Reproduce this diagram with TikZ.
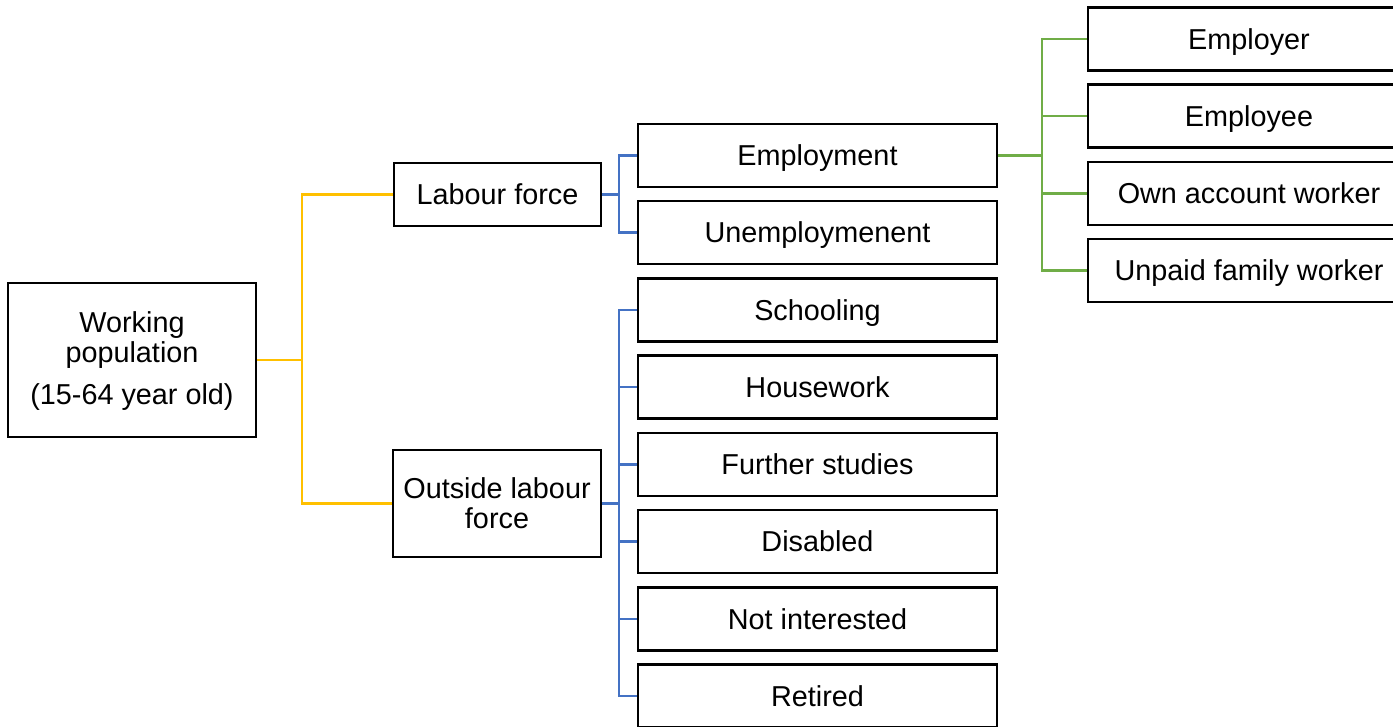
\documentclass[tikz,border=0pt]{standalone}
\usepackage{fontspec}
\setmainfont{Liberation Sans}
\begin{document}
\begin{tikzpicture}[x=1pt,y=-1pt,
  box/.style={draw=black,line width=2.6pt,fill=white,inner sep=0pt,align=center,
    font=\fontsize{28.8}{30}\selectfont},
  onebox/.style={box,text height=20.6pt,text depth=0pt},
  midbox/.style={onebox,minimum width=359pt,minimum height=63pt},
  rbox/.style={onebox,minimum width=322pt,minimum height=63pt},
  link/.style={line width=2.2pt},
  yel/.style={link,draw={rgb,255:red,255;green,192;blue,0}},
  blu/.style={link,draw={rgb,255:red,68;green,114;blue,196}},
  grn/.style={link,draw={rgb,255:red,112;green,173;blue,71}}]
\useasboundingbox (0,0) rectangle (1393,726);
\clip (0,0) rectangle (1393,726);

% root and first level
\node[box,minimum width=248pt,minimum height=154pt,text depth=3pt] (wp) at (132,360)
  {Working\\population\\[12pt](15-64 year old)};
\node[onebox,minimum width=207pt,minimum height=63pt] (lf) at (497.5,194.5) {Labour force};
\node[box,minimum width=208pt,minimum height=107pt] (olf) at (497,503.5) {Outside labour\\force};

% second level
\node[midbox] (emp) at (817.5,155.5) {Employment};
\node[midbox] (unemp) at (817.5,232.5) {Unemploymenent};
\node[midbox] (sch) at (817.5,310) {Schooling};
\node[midbox] (hw) at (817.5,387) {Housework};
\node[midbox] (fs) at (817.5,464.5) {Further studies};
\node[midbox] (dis) at (817.5,541.5) {Disabled};
\node[midbox] (ni) at (817.5,619) {Not interested};
\node[midbox] (ret) at (817.5,696) {Retired};

% employment categories
\node[rbox] (er) at (1249,39) {Employer};
\node[rbox] (ee) at (1249,116) {Employee};
\node[rbox] (oaw) at (1249,193.5) {Own account worker};
\node[rbox] (ufw) at (1249,270.5) {Unpaid family worker};

% junction points
\coordinate (j1) at (302,360);
\coordinate (j2) at (619,194.5);
\coordinate (j3) at (619,503.5);
\coordinate (j4) at (1042,155.5);

\draw[yel] (wp.east) -- (j1);
\draw[yel] (j1) |- (lf.west);
\draw[yel] (j1) |- (olf.west);

\draw[blu] (lf.east) -- (j2);
\draw[blu] (j2) |- (emp.west);
\draw[blu] (j2) |- (unemp.west);

\draw[blu] (olf.east) -- (j3);
\foreach \n in {sch,hw,fs,dis,ni,ret} \draw[blu] (j3) |- (\n.west);

\draw[grn] (emp.east) -- (j4);
\foreach \n in {er,ee,oaw,ufw} \draw[grn] (j4) |- (\n.west);
\end{tikzpicture}
\end{document}
